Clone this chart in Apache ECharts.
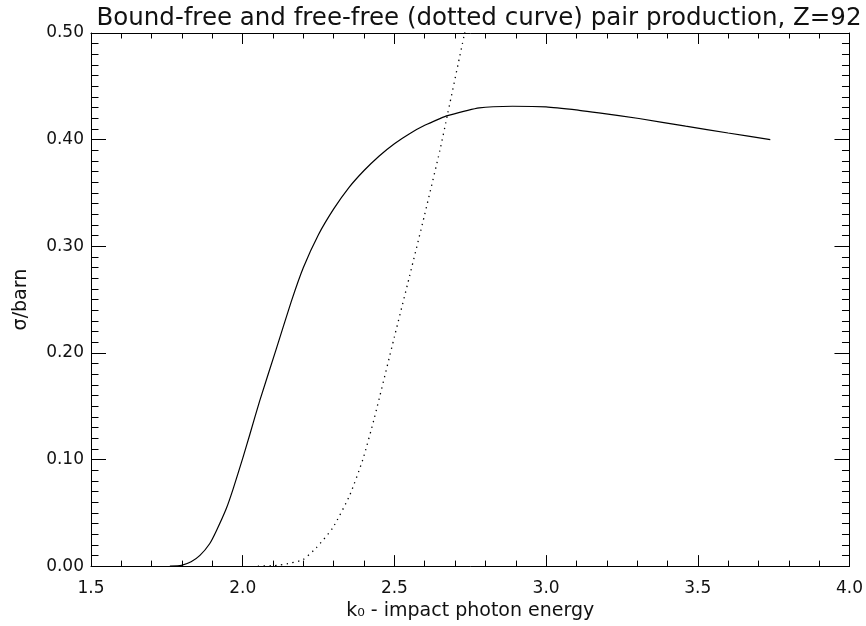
<!DOCTYPE html>
<html>
<head>
<meta charset="utf-8">
<script src="https://cdn.jsdelivr.net/npm/echarts@6/dist/echarts.min.js"></script>
<style>
  html, body { margin: 0; padding: 0; background: #fff; }
  #chart { width: 866px; height: 626px; }
</style>
</head>
<body>
<div id="chart"></div>
<script>
// Bound-free pair production cross section (solid), sigma in barn vs k0
const boundFreeK = [1.760, 1.798, 1.830, 1.859, 1.891, 1.913, 1.946, 1.968, 2.001, 2.023, 2.056, 2.111, 2.160,
  2.200, 2.250, 2.300, 2.350, 2.400, 2.450, 2.500, 2.550, 2.600, 2.650, 2.675, 2.780, 2.889, 3.000, 3.109, 3.174,
  3.306, 3.460, 3.600, 3.739];
const boundFreeSigma = [0.000, 0.0007, 0.004, 0.010, 0.021, 0.033, 0.054, 0.072, 0.102, 0.123, 0.155, 0.204, 0.248,
  0.280, 0.311, 0.335, 0.355, 0.371, 0.3847, 0.3962, 0.4056, 0.4134, 0.4197, 0.4225, 0.4298, 0.4313, 0.4307, 0.4275,
  0.4251, 0.4198, 0.4126, 0.4062, 0.400];

// Free-free pair production cross section (dotted)
const freeFreeK = [2.050, 2.100, 2.122, 2.160, 2.198, 2.242, 2.297, 2.352, 2.396, 2.434, 2.500, 2.550, 2.600,
  2.650, 2.675, 2.730, 2.760];
const freeFreeSigma = [0.000, 0.0003, 0.001, 0.003, 0.006, 0.017, 0.036, 0.066, 0.100, 0.139, 0.215, 0.272, 0.330,
  0.390, 0.4235, 0.498, 0.540];

const xTicks = [1.5, 2.0, 2.5, 3.0, 3.5, 4.0];
const yTicks = [0.00, 0.10, 0.20, 0.30, 0.40, 0.50];

const FONT = 'DejaVu Sans';
const INK = '#000';
const TEXT = '#111';

function pairs(xs, ys) { return xs.map((x, i) => [x, ys[i]]); }

function xAxisDef(pos, showLabels) {
  return {
    type: 'value', position: pos,
    min: xTicks[0], max: xTicks[xTicks.length - 1], interval: 0.5,
    axisLine: { show: true, onZero: false, lineStyle: { color: INK, width: 1 } },
    axisTick: { show: true, inside: true, length: 11, lineStyle: { color: INK, width: 1 } },
    minorTick: { show: true, splitNumber: 5, length: 5.5, lineStyle: { color: INK, width: 1 } },
    splitLine: { show: false },
    axisLabel: { show: showLabels, margin: 14, fontFamily: FONT, fontSize: 17, color: TEXT,
      formatter: v => v.toFixed(1) },
    name: showLabels ? 'k\u2080 - impact photon energy' : '',
    nameLocation: 'middle', nameGap: 31,
    nameTextStyle: { fontFamily: FONT, fontSize: 19, color: TEXT }
  };
}

function yAxisDef(pos, showLabels) {
  return {
    type: 'value', position: pos,
    min: yTicks[0], max: yTicks[yTicks.length - 1], interval: 0.1,
    axisLine: { show: true, onZero: false, lineStyle: { color: INK, width: 1 } },
    axisTick: { show: true, inside: true, length: 15, lineStyle: { color: INK, width: 1 } },
    minorTick: { show: true, splitNumber: 10, length: 7.5, lineStyle: { color: INK, width: 1 } },
    splitLine: { show: false },
    axisLabel: { show: showLabels, margin: 7, fontFamily: FONT, fontSize: 17, color: TEXT,
      formatter: v => v.toFixed(2) },
    name: showLabels ? '\u03c3/barn' : '',
    nameLocation: 'middle', nameGap: 60, nameRotate: 90,
    nameTextStyle: { fontFamily: FONT, fontSize: 19, color: TEXT }
  };
}

const chart = echarts.init(document.getElementById('chart'), null, { renderer: 'canvas' });
chart.setOption({
  animation: false,
  backgroundColor: '#fff',
  title: {
    text: 'Bound-free and free-free (dotted curve) pair production, Z=92',
    left: 474, top: 1, textAlign: 'center',
    textStyle: { fontFamily: FONT, fontSize: 24.5, fontWeight: 'normal', color: TEXT }
  },
  grid: { left: 91, right: 15, top: 33, bottom: 57 },
  xAxis: [xAxisDef('bottom', true), xAxisDef('top', false)],
  yAxis: [yAxisDef('left', true), yAxisDef('right', false)],
  series: [
    {
      type: 'line', xAxisIndex: 0, yAxisIndex: 0,
      data: pairs(boundFreeK, boundFreeSigma),
      showSymbol: false, smooth: 0.2, clip: true,
      lineStyle: { color: INK, width: 1.2 }
    },
    {
      type: 'line', xAxisIndex: 0, yAxisIndex: 0,
      data: pairs(freeFreeK, freeFreeSigma),
      showSymbol: false, smooth: 0.2, clip: true,
      lineStyle: { color: INK, width: 1.3, type: [1.3, 4.5] }
    }
  ]
});
</script>
</body>
</html>
